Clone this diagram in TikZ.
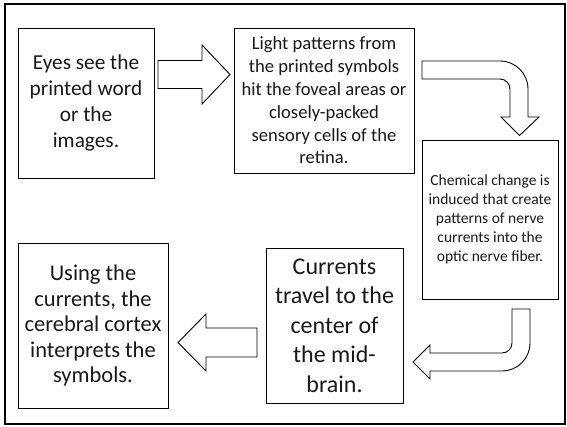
\documentclass[tikz,border=0pt]{standalone}
\usepackage{fontspec}
\setmainfont{Carlito}
\begin{document}
\begin{tikzpicture}[x=1pt,y=-1pt,
  box/.style={draw=black,line width=1pt,fill=white,inner sep=0pt,align=center,text=black!90},
  blockarrow/.style={draw=black,line width=0.9pt,fill=white,line join=miter}]
\useasboundingbox (0,0) rectangle (567,426);
\draw[line width=2.2pt] (5,4) rectangle (565,424);
% boxes
\node[box,minimum width=136pt,minimum height=150pt,font=\fontsize{21.3}{26}\selectfont] (b1) at (86,103)
  {Eyes see the\\printed word\\or the\\images.};
\node[box,minimum width=180pt,minimum height=145pt,font=\fontsize{18.6}{22.8}\selectfont] (b2) at (324,100.5)
  {Light patterns from\\the printed symbols\\hit the foveal areas or\\closely-packed\\sensory cells of the\\retina.};
\node[box,minimum width=136pt,minimum height=159pt,font=\fontsize{15.5}{19}\selectfont] (b3) at (490,219.5)
  {Chemical change is\\induced that create\\patterns of nerve\\currents into the\\optic nerve fiber.};
\node[box,minimum width=137pt,minimum height=155pt,font=\fontsize{24}{29.6}\selectfont] (b4) at (334.5,325.5)
  {Currents\\travel to the\\center of\\the mid-\\brain.};
\node[box,minimum width=150pt,minimum height=165pt,font=\fontsize{22.5}{25.5}\selectfont] (b5) at (93,325.5)
  {Using the\\currents, the\\cerebral cortex\\interprets the\\symbols.};
% block arrows
\draw[blockarrow] (158,60.5) -- (202,60.5) -- (202,45) -- (230,74.5) -- (202,104) -- (202,88.5) -- (158,88.5) -- cycle;
\draw[blockarrow] (422,61) -- (500,61) .. controls (515.5,61) and (528,73.5) .. (528,89) -- (528,117) -- (539,117) -- (519.5,135.5) -- (501,117) -- (510,117) -- (510,89) .. controls (510,83.5) and (505.5,79) .. (500,79) -- (422,79) -- cycle;
\draw[blockarrow] (512,309) -- (530,309) -- (530,343) .. controls (530,358.5) and (517.5,371) .. (502,371) -- (430,371) -- (430,379) -- (413,362) -- (430,345) -- (430,353) -- (502,353) .. controls (507.5,353) and (512,348.5) .. (512,343) -- cycle;
\draw[blockarrow] (257,328) -- (206,328) -- (206,314) -- (178,342.5) -- (206,371) -- (206,357) -- (257,357) -- cycle;
\end{tikzpicture}
\end{document}
